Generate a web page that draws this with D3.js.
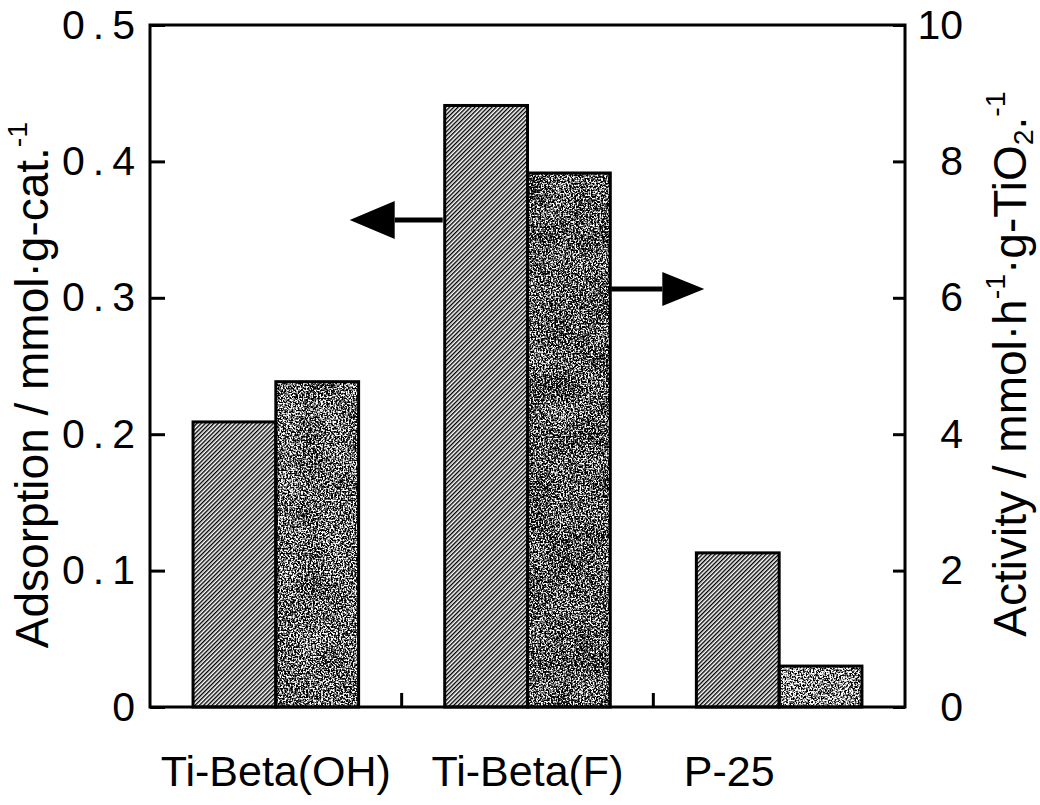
<!DOCTYPE html>
<html>
<head>
<meta charset="utf-8">
<script src="https://cdn.jsdelivr.net/npm/d3@7"></script>
<style>
    body { margin: 0; background: #fff; }
    svg { display: block; font-family: "Liberation Sans", Arial, sans-serif; }
    .axis text { font-size: 41px; fill: #000; }
    .axis line { stroke: #000; stroke-width: 3px; }
    .title { font-size: 46px; fill: #000; }
    .cat { font-size: 43px; fill: #000; }
</style>
</head>
<body>
<script>
var width = 1040;
var height = 805;

var categories = ["Ti-Beta(OH)", "Ti-Beta(F)", "P-25"];
var adsorption = [0.209, 0.441, 0.113];   // mmol g-cat.^-1, left axis
var activity = [4.77, 7.83, 0.60];        // mmol h^-1 g-TiO2^-1, right axis
var leftTicks = [0, 0.1, 0.2, 0.3, 0.4, 0.5];
var rightTicks = [0, 2, 4, 6, 8, 10];

var box = {left: 150, right: 905, top: 25, bottom: 707};

var x = d3.scaleBand().domain(categories).range([box.left, box.right]);
var sub = d3.scaleBand()
    .domain(["adsorption", "activity"])
    .range([0, x.bandwidth()])
    .paddingOuter(0.52)
;
var yL = d3.scaleLinear().domain([0, 0.5]).range([box.bottom, box.top]);
var yR = d3.scaleLinear().domain([0, 10]).range([box.bottom, box.top]);

var svg = d3.select("body")
    .append("svg")
    .attr("width", width)
    .attr("height", height)
;

var defs = svg.append("defs");

// diagonal hatching for the adsorption bars
defs.append("pattern")
    .attr("id", "hatch")
    .attr("patternUnits", "userSpaceOnUse")
    .attr("width", 3)
    .attr("height", 10)
    .attr("patternTransform", "rotate(45)")
    .append("rect")
    .attr("width", 1.4)
    .attr("height", 10)
    .attr("fill", "#000")
;

// grainy screen tone for the activity bars, one tone per sample
var tones = {"Ti-Beta(OH)": 0.4, "Ti-Beta(F)": 0.31, "P-25": 0.58};
categories.forEach(function(c, i) {
    var f = defs.append("filter")
        .attr("id", "grain" + i)
        .attr("x", 0).attr("y", 0).attr("width", 1).attr("height", 1)
        .attr("color-interpolation-filters", "sRGB")
    ;
    f.append("feTurbulence")
        .attr("type", "fractalNoise")
        .attr("baseFrequency", 0.6)
        .attr("numOctaves", 2)
        .attr("seed", 3 + i)
        .attr("result", "fine");
    f.append("feColorMatrix")
        .attr("in", "fine")
        .attr("type", "matrix")
        .attr("values", "1 0 0 0 0  1 0 0 0 0  1 0 0 0 0  0 0 0 0 1")
        .attr("result", "fineGray");
    f.append("feTurbulence")
        .attr("type", "fractalNoise")
        .attr("baseFrequency", 0.04)
        .attr("numOctaves", 1)
        .attr("seed", 11 + i)
        .attr("result", "coarse");
    f.append("feColorMatrix")
        .attr("in", "coarse")
        .attr("type", "matrix")
        .attr("values", "1 0 0 0 0  1 0 0 0 0  1 0 0 0 0  0 0 0 0 1")
        .attr("result", "coarseGray");
    f.append("feComposite")
        .attr("in", "fineGray")
        .attr("in2", "coarseGray")
        .attr("operator", "arithmetic")
        .attr("k1", 0).attr("k2", 1).attr("k3", 0.12).attr("k4", 0)
        .attr("result", "mix");
    var k = 4.5, b = tones[c] - k * 0.56;
    var row = k + " 0 0 0 " + b;
    f.append("feColorMatrix")
        .attr("in", "mix")
        .attr("type", "matrix")
        .attr("values", row + "  " + row + "  " + row + "  0 0 0 0 1");
});

var bars = [];
categories.forEach(function(c, i) {
    bars.push({cat: c, idx: i, key: "adsorption", value: adsorption[i], y: yL});
    bars.push({cat: c, idx: i, key: "activity", value: activity[i], y: yR});
});

var gBars = svg.append("g").attr("class", "bars");

var barX = d => x(d.cat) + sub(d.key);

gBars.selectAll("rect.fill")
    .data(bars)
    .enter().append("rect")
    .attr("class", "fill")
    .attr("x", barX)
    .attr("y", d => d.y(d.value))
    .attr("width", sub.bandwidth())
    .attr("height", d => box.bottom - d.y(d.value))
    .attr("fill", d => d.key === "adsorption" ? "url(#hatch)" : "#000")
    .attr("filter", d => d.key === "activity" ? "url(#grain" + d.idx + ")" : null)
;

gBars.selectAll("rect.edge")
    .data(bars)
    .enter().append("rect")
    .attr("class", "edge")
    .attr("x", barX)
    .attr("y", d => d.y(d.value))
    .attr("width", sub.bandwidth())
    .attr("height", d => box.bottom - d.y(d.value))
    .attr("fill", "none")
    .attr("stroke", "#000")
    .attr("stroke-width", 3)
;

// frame
svg.append("rect")
    .attr("x", box.left)
    .attr("y", box.top)
    .attr("width", box.right - box.left)
    .attr("height", box.bottom - box.top)
    .attr("fill", "none")
    .attr("stroke", "#000")
    .attr("stroke-width", 3)
;

var leftAxis = d3.axisLeft(yL)
    .tickValues(leftTicks)
    .tickSizeInner(-15)
    .tickSizeOuter(0)
    .tickPadding(7)
    .tickFormat(d => d === 0 ? "0" : d3.format(".1f")(d))
;
svg.append("g")
    .attr("class", "axis")
    .attr("transform", `translate(${box.left}, 0)`)
    .call(leftAxis)
    .call(g => g.select(".domain").remove())
    .call(g => g.selectAll("text").attr("letter-spacing", "8px"))
;

var rightAxis = d3.axisRight(yR)
    .tickValues(rightTicks)
    .tickSizeInner(-12)
    .tickSizeOuter(0)
;
svg.append("g")
    .attr("class", "axis")
    .attr("transform", `translate(${box.right}, 0)`)
    .call(rightAxis)
    .call(g => g.select(".domain").remove())
    .call(g => g.selectAll("text").attr("text-anchor", "end").attr("x", 58))
;

// separators between the sample groups on the bottom edge
svg.append("g")
    .attr("class", "axis")
    .selectAll("line")
    .data(categories.slice(1))
    .enter().append("line")
    .attr("x1", d => x(d))
    .attr("x2", d => x(d))
    .attr("y1", box.bottom)
    .attr("y2", box.bottom - 14)
;

// category names; P-25 sits a little left of its bars
var catShift = {"P-25": -50};
svg.append("g")
    .selectAll("text")
    .data(categories)
    .enter().append("text")
    .attr("class", "cat")
    .attr("x", d => x(d) + x.bandwidth() / 2 + (catShift[d] || 0))
    .attr("y", 786)
    .attr("text-anchor", "middle")
    .text(d => d)
;

// axis titles
var tL = svg.append("text")
    .attr("class", "title")
    .attr("transform", "translate(48, 385) rotate(-90)")
    .attr("text-anchor", "middle")
;
tL.append("tspan").text("Adsorption / mmol\u00b7g-cat.");
tL.append("tspan").attr("font-size", "0.62em").attr("dy", "-0.75em").text("-1");

var tR = svg.append("text")
    .attr("class", "title")
    .attr("transform", "translate(1026, 364) rotate(-90)")
    .attr("text-anchor", "middle")
;
tR.append("tspan").text("Activity / mmol\u00b7h");
tR.append("tspan").attr("font-size", "0.62em").attr("dy", "-0.75em").text("-1");
tR.append("tspan").attr("dy", "0.465em").text("\u00b7g-TiO");
tR.append("tspan").attr("font-size", "0.62em").attr("dy", "0.25em").text("2");
tR.append("tspan").attr("dy", "-0.155em").text(".");
tR.append("tspan").attr("font-size", "0.62em").attr("dy", "-0.75em").text("-1");

// arrows pointing each bar pair to its axis
var arrow = d3.line();
function drawArrow(x0, y0, dir, len, head, half) {
    var tip = x0 + dir * len;
    var base = tip - dir * head;
    svg.append("path")
        .attr("d", arrow([[x0, y0], [base, y0]]))
        .attr("stroke", "#000")
        .attr("stroke-width", 5)
    ;
    svg.append("path")
        .attr("d", arrow([[base, y0 - half], [tip, y0], [base, y0 + half]]) + "Z")
        .attr("fill", "#000")
    ;
}
var fIdx = 1;
drawArrow(x(categories[fIdx]) + sub("adsorption") - 2, yL(0.357), -1, 93, 45, 19);
drawArrow(x(categories[fIdx]) + sub("activity") + sub.bandwidth() + 1, yR(6.13), 1, 93, 42, 17);
</script>
</body>
</html>
